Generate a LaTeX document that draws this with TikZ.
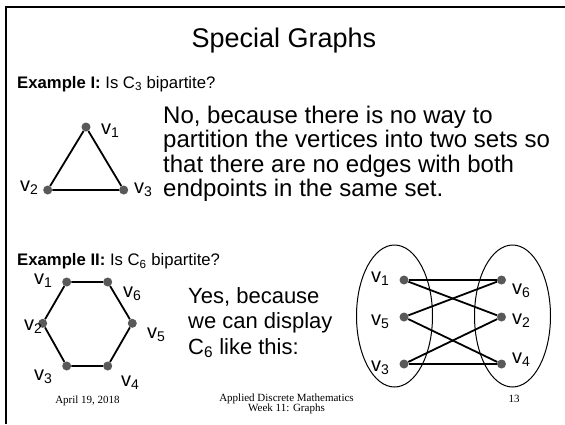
\documentclass[tikz,border=0pt]{standalone}
\usepackage{fontspec}
\setmainfont{Liberation Sans}
\newfontfamily\timesf{Liberation Serif}
\usetikzlibrary{shapes.geometric}
\newcommand\vlab[1]{v\textsubscript{#1}}
\begin{document}
\begin{tikzpicture}[x=1pt,y=-1pt,
  dot/.style={circle,fill=black!65,inner sep=0pt,minimum size=9pt},
  edge/.style={line width=1.8pt},
  vtxt/.style={anchor=base west,inner sep=0pt,font=\fontsize{20}{22}\selectfont},
  body/.style={anchor=base west,inner sep=0pt,font=\fontsize{24}{26}\selectfont},
  yes/.style={anchor=base west,inner sep=0pt,font=\fontsize{22}{24}\selectfont},
  small/.style={anchor=base west,inner sep=0pt,font=\fontsize{16.7}{20}\selectfont},
  foot/.style={anchor=base,inner sep=0pt,font=\timesf\fontsize{11}{12}\selectfont},
  oval/.style={ellipse,draw,line width=1pt,inner sep=0pt}]
\useasboundingbox (0,0) rectangle (565,424);
\fill[white] (0,0) rectangle (565,424);
\draw[line width=2.2pt] (6,424) |- (565,7);
% title
\node[anchor=base,inner sep=0pt,font=\fontsize{27}{30}\selectfont] (title) at (284,47) {Special Graphs};
% Example I
\node[small] (ex1) at (17,88) {\textbf{Example I:} Is C\textsubscript{3} bipartite?};
\node[body] (p1) at (163,123) {No, because there is no way to};
\node[body] (p2) at (163,147.5) {partition the vertices into two sets so};
\node[body] (p3) at (163,172) {that there are no edges with both};
\node[body] (p4) at (163,196.5) {endpoints in the same set.};
% triangle
\node[dot] (t1) at (86,127) {};
\node[dot] (t2) at (47.7,190) {};
\node[dot] (t3) at (123.7,190) {};
\draw[edge] (t1) -- (t2) -- (t3) -- (t1);
\node[vtxt] (lt1) at (101,134) {\vlab{1}};
\node[vtxt] (lt2) at (20,191) {\vlab{2}};
\node[vtxt] (lt3) at (134,193) {\vlab{3}};
% Example II
\node[small] (ex2) at (17,265.5) {\textbf{Example II:} Is C\textsubscript{6} bipartite?};
% hexagon
\node[dot] (h1) at (66.7,282) {};
\node[dot] (h6) at (107.7,282) {};
\node[dot] (h2) at (42.7,323.3) {};
\node[dot] (h5) at (132.3,323.3) {};
\node[dot] (h3) at (66.7,366) {};
\node[dot] (h4) at (107.7,366) {};
\draw[edge] (h1) -- (h6) -- (h5) -- (h4) -- (h3) -- (h2) -- (h1);
\node[vtxt] (lh1) at (34,284.5) {\vlab{1}};
\node[vtxt] (lh6) at (123,297) {\vlab{6}};
\node[vtxt] (lh2) at (24,330) {\vlab{2}};
\node[vtxt] (lh5) at (147,338) {\vlab{5}};
\node[vtxt] (lh3) at (34,380) {\vlab{3}};
\node[vtxt] (lh4) at (121,386) {\vlab{4}};
% Yes text
\node[yes] (y1) at (188,303) {Yes, because};
\node[yes] (y2) at (188,328.5) {we can display};
\node[yes] (y3) at (188,354) {C\textsubscript{6} like this:};
% bipartite drawing
\node[oval,minimum width=76pt,minimum height=142pt] (left) at (394.5,316) {};
\node[oval,minimum width=76pt,minimum height=142pt] (right) at (512.5,316) {};
\node[dot] (b1) at (404,280) {};
\node[dot] (b5) at (404,317) {};
\node[dot] (b3) at (404,364) {};
\node[dot] (b6) at (501.5,280) {};
\node[dot] (b2) at (501.5,317) {};
\node[dot] (b4) at (501.5,364) {};
\draw[edge] (b1) -- (b6);
\draw[edge] (b1) -- (b2);
\draw[edge] (b5) -- (b6);
\draw[edge] (b5) -- (b4);
\draw[edge] (b3) -- (b2);
\draw[edge] (b3) -- (b4);
\node[vtxt] (lb1) at (371,282) {\vlab{1}};
\node[vtxt] (lb5) at (371,325) {\vlab{5}};
\node[vtxt] (lb3) at (371,371) {\vlab{3}};
\node[vtxt] (lb6) at (512,294) {\vlab{6}};
\node[vtxt] (lb2) at (512,324) {\vlab{2}};
\node[vtxt] (lb4) at (512,363) {\vlab{4}};
% footer
\node[foot] (date) at (87.5,403) {April 19, 2018};
\node[foot] (course) at (286.5,401) {Applied Discrete Mathematics};
\node[foot] (week) at (286.5,411) {Week 11: Graphs};
\node[foot] (page) at (514,402) {13};
\end{tikzpicture}
\end{document}
